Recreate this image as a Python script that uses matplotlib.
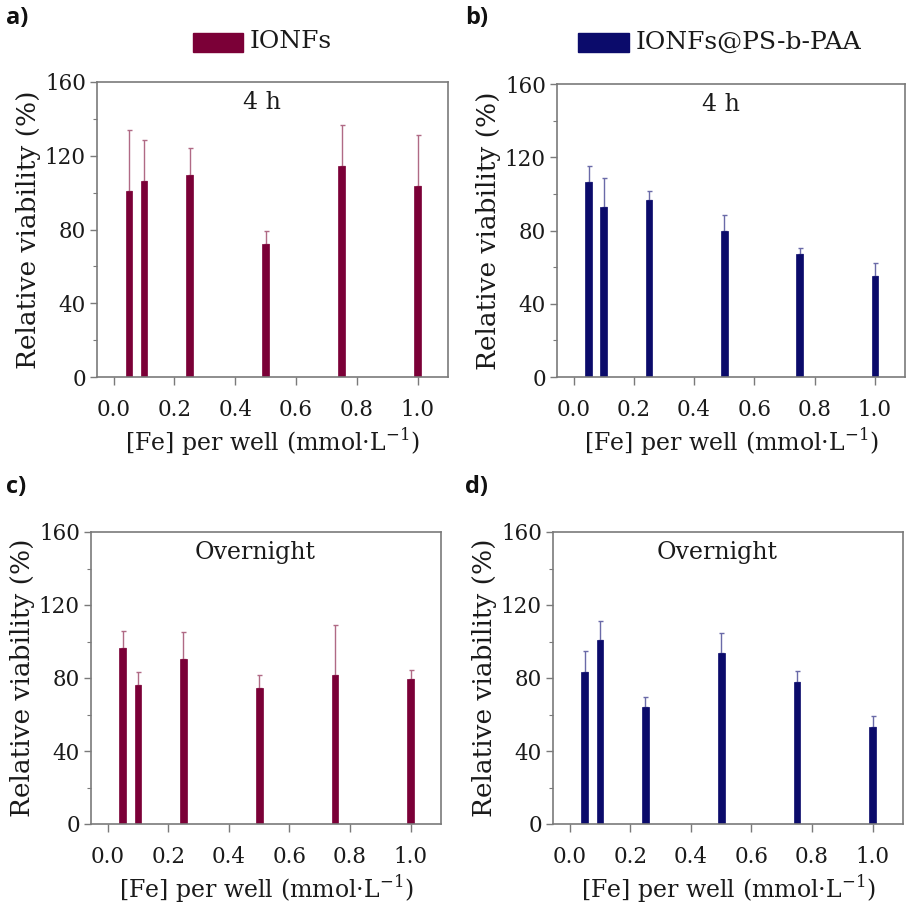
import matplotlib
matplotlib.use("Agg")
import matplotlib.pyplot as plt
from matplotlib.patches import Rectangle
from matplotlib.ticker import MultipleLocator

# ---- data ----
fe_conc = [0.05, 0.1, 0.25, 0.5, 0.75, 1.0]

ionfs_4h = [100.7, 106.5, 109.7, 72.3, 114.4, 103.6]
ionfs_4h_err = [33.2, 21.9, 14.3, 7.1, 22.2, 27.5]

pspaa_4h = [106.3, 93.0, 96.6, 79.7, 67.4, 55.4]
pspaa_4h_err = [9.1, 15.5, 5.1, 8.7, 3.3, 6.8]

ionfs_on = [96.3, 76.3, 90.4, 74.7, 81.8, 79.4]
ionfs_on_err = [9.2, 7.0, 14.6, 7.1, 27.0, 5.1]

pspaa_on = [83.5, 100.9, 63.9, 93.9, 77.6, 52.9]
pspaa_on_err = [11.5, 10.5, 5.7, 11.0, 6.0, 6.1]

x_ticks = [0.0, 0.2, 0.4, 0.6, 0.8, 1.0]
y_ticks = [0, 40, 80, 120, 160]

series_names = ["IONFs", "IONFs@PS-b-PAA"]
time_labels = ["4 h", "Overnight"]
panel_letters = ["a)", "b)", "c)", "d)"]

# ---- styles ----
MAROON = "#7b0037"
MAROON_ERR = "#b06a85"
NAVY = "#0b0b6b"
NAVY_ERR = "#6a6aa8"
SPINE = "#7a7a7a"
TXT = "#1a1a1a"
SERIF = ["DejaVu Serif"]

W, H = 913, 919
fig = plt.figure(figsize=(W / 100, H / 100), dpi=100)


def px_axes(l, r, t, b):
    return fig.add_axes([l / W, 1 - b / H, (r - l) / W, (b - t) / H])


panels = [
    (px_axes(97, 448, 82, 377), ionfs_4h, ionfs_4h_err, MAROON, MAROON_ERR, time_labels[0]),
    (px_axes(557, 905, 84, 377), pspaa_4h, pspaa_4h_err, NAVY, NAVY_ERR, time_labels[0]),
    (px_axes(91, 441, 532, 824), ionfs_on, ionfs_on_err, MAROON, MAROON_ERR, time_labels[1]),
    (px_axes(553, 903, 532, 824), pspaa_on, pspaa_on_err, NAVY, NAVY_ERR, time_labels[1]),
]

for ax, vals, errs, col, ecol, tlabel in panels:
    ax.bar(fe_conc, vals, width=0.022, color=col, edgecolor=col, linewidth=0.5, zorder=2)
    ax.errorbar(fe_conc, vals, yerr=[[0] * len(errs), errs], fmt="none",
                ecolor=ecol, elinewidth=1.0, capsize=1.8, capthick=1.0, zorder=1)
    ax.set_xlim(-0.055, 1.1)
    ax.set_ylim(0, 160)
    ax.set_xticks(x_ticks)
    ax.set_xticklabels([f"{v:.1f}" for v in x_ticks])
    ax.set_yticks(y_ticks)
    ax.yaxis.set_minor_locator(MultipleLocator(20))
    for s in ax.spines.values():
        s.set_color(SPINE)
        s.set_linewidth(1.2)
    ax.tick_params(axis="both", which="major", direction="out", length=5,
                   width=1.0, color=SPINE, labelsize=15.5, labelcolor=TXT, pad=3)
    ax.tick_params(axis="x", which="major", length=6, pad=10)
    ax.tick_params(axis="y", which="minor", direction="out", length=3, width=0.8, color=SPINE)
    ax.tick_params(axis="x", which="minor", bottom=False)
    for lab in ax.get_xticklabels() + ax.get_yticklabels():
        lab.set_fontfamily(SERIF)
    ax.set_ylabel("Relative viability (%)", fontsize=19, family=SERIF, color=TXT, labelpad=3)
    ax.set_xlabel(r"[Fe] per well (mmol·L$^{\mathregular{-1}}$)", fontsize=17,
                  family=SERIF, color=TXT, labelpad=4)
    ax.text(0.47, 0.93, tlabel, transform=ax.transAxes, ha="center", va="center",
            fontsize=17, family=SERIF, color=TXT)

# legends (top)
leg_specs = [(193, 243, 250, MAROON, series_names[0]), (578, 629, 636, NAVY, series_names[1])]
for x0, x1, xt, col, name in leg_specs:
    fig.patches.append(Rectangle((x0 / W, 1 - 52 / H), (x1 - x0) / W, 19 / H,
                                 transform=fig.transFigure, color=col))
    fig.text(xt / W, 1 - 42 / H, name, ha="left", va="center", fontsize=18,
             family=SERIF, color=TXT)

# panel letters
for (x, y), lt in zip([(6, 18), (465, 18), (6, 487), (465, 487)], panel_letters):
    fig.text(x / W, 1 - y / H, lt, ha="left", va="center", fontsize=17,
             fontweight="bold", family=["Open Sans", "DejaVu Sans"], color="#111111")

fig.savefig("out.png", dpi=100, facecolor="white")
